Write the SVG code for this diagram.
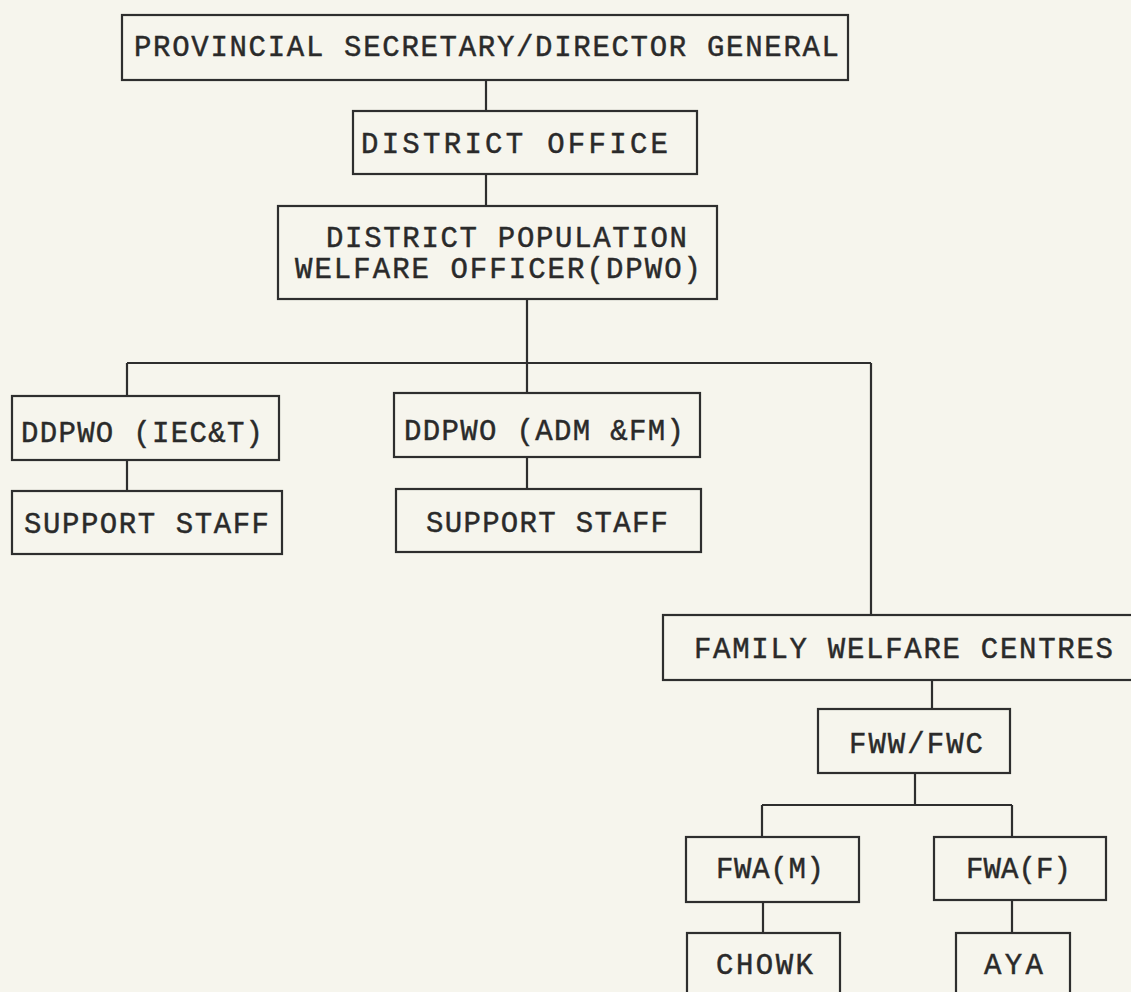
<svg xmlns="http://www.w3.org/2000/svg" width="1131" height="992" viewBox="0 0 1131 992">
<style>
.bg{fill:#f6f5ed}
.box{fill:none;stroke:#2e2e2e;stroke-width:2.2}
.lnk{fill:none;stroke:#2e2e2e;stroke-width:2.2}
.t{font-family:"Liberation Mono","DejaVu Sans Mono",monospace;font-size:29px;fill:#2a2a2a;stroke:#2a2a2a;stroke-width:0.45}
</style>
<rect class="bg" x="0" y="0" width="1131" height="992"/>
<g id="connectors">
<path class="lnk" d="M486 80V111"/>
<path class="lnk" d="M486 174V206"/>
<path class="lnk" d="M527 299V363M127 363H871M127 363V396M527 363V393M871 363V615"/>
<path class="lnk" d="M127 460V491"/>
<path class="lnk" d="M527 457V489"/>
<path class="lnk" d="M932 680V709"/>
<path class="lnk" d="M915 773V805M762 805H1012M762 805V837M1012 805V837"/>
<path class="lnk" d="M763 902V933"/>
<path class="lnk" d="M1012 900V933"/>
</g>
<g id="n-provincial">
<rect class="box" x="122" y="15" width="726" height="65"/>
<text class="t" x="134" y="56" textLength="705" lengthAdjust="spacing">PROVINCIAL SECRETARY/DIRECTOR GENERAL</text>
</g>
<g id="n-district-office">
<rect class="box" x="353" y="111" width="344" height="63"/>
<text class="t" x="361" y="153" textLength="307" lengthAdjust="spacing">DISTRICT OFFICE</text>
</g>
<g id="n-dpwo">
<rect class="box" x="278" y="206" width="439" height="93"/>
<text class="t" x="326" y="247" textLength="361" lengthAdjust="spacing">DISTRICT POPULATION</text>
<text class="t" x="295" y="278" textLength="406" lengthAdjust="spacing">WELFARE OFFICER(DPWO)</text>
</g>
<g id="n-ddpwo-iect">
<rect class="box" x="12" y="396" width="267" height="64"/>
<text class="t" x="21" y="442" textLength="242" lengthAdjust="spacing">DDPWO (IEC&amp;T)</text>
</g>
<g id="n-support-1">
<rect class="box" x="12" y="491" width="270" height="63"/>
<text class="t" x="24" y="533" textLength="245" lengthAdjust="spacing">SUPPORT STAFF</text>
</g>
<g id="n-ddpwo-adm">
<rect class="box" x="394" y="393" width="306" height="64"/>
<text class="t" x="404" y="440" textLength="280" lengthAdjust="spacing">DDPWO (ADM &amp;FM)</text>
</g>
<g id="n-support-2">
<rect class="box" x="396" y="489" width="305" height="63"/>
<text class="t" x="426" y="532" textLength="242" lengthAdjust="spacing">SUPPORT STAFF</text>
</g>
<g id="n-fwc">
<rect class="box" x="663" y="615" width="472" height="65"/>
<text class="t" x="694" y="658" textLength="419" lengthAdjust="spacing">FAMILY WELFARE CENTRES</text>
</g>
<g id="n-fww">
<rect class="box" x="818" y="709" width="192" height="64"/>
<text class="t" x="849" y="753" textLength="134" lengthAdjust="spacing">FWW/FWC</text>
</g>
<g id="n-fwa-m">
<rect class="box" x="686" y="837" width="173" height="65"/>
<text class="t" x="716" y="878" textLength="108" lengthAdjust="spacing">FWA(M)</text>
</g>
<g id="n-fwa-f">
<rect class="box" x="934" y="837" width="172" height="63"/>
<text class="t" x="966" y="878" textLength="105" lengthAdjust="spacing">FWA(F)</text>
</g>
<g id="n-chowk">
<rect class="box" x="687" y="933" width="153" height="70"/>
<text class="t" x="716" y="974" textLength="97" lengthAdjust="spacing">CHOWK</text>
</g>
<g id="n-aya">
<rect class="box" x="956" y="933" width="114" height="70"/>
<text class="t" x="984" y="974" textLength="59" lengthAdjust="spacing">AYA</text>
</g>
</svg>
